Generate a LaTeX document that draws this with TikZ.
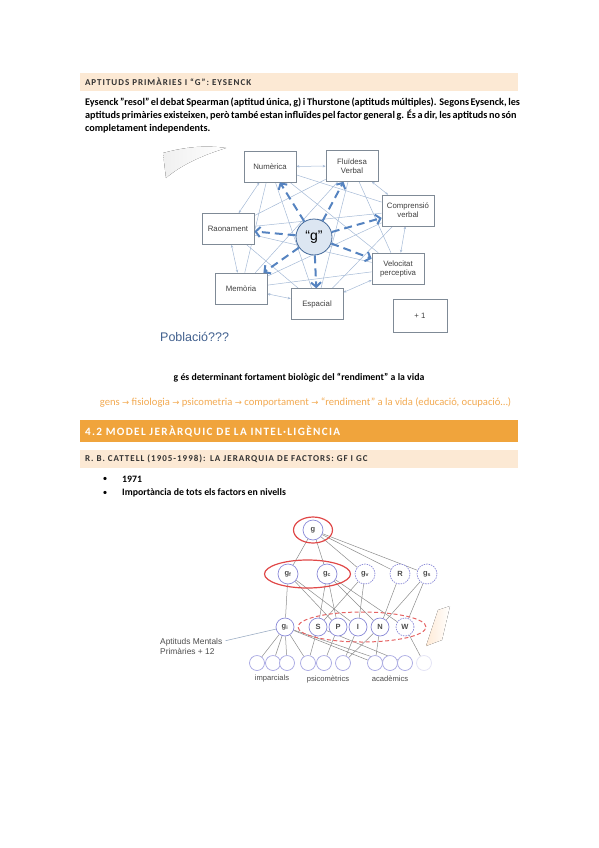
\documentclass[tikz,border=0pt]{standalone}
\usepackage{fontspec}
\setmainfont{Carlito}
\newfontfamily\figfont{Liberation Sans}
\newfontfamily\symfont{DejaVu Sans}
\usetikzlibrary{arrows.meta,shapes.geometric,backgrounds}
\definecolor{peach}{HTML}{FCE9D4}
\definecolor{bandorange}{HTML}{F0A43C}
\definecolor{txtorange}{HTML}{F2A950}
\definecolor{boxline}{HTML}{7F8A96}
\definecolor{linkblue}{HTML}{A5BAD6}
\definecolor{arrowblue}{HTML}{5583C0}
\definecolor{gfill}{HTML}{DCE6F2}
\definecolor{popblue}{HTML}{41608E}
\definecolor{circblue}{HTML}{8A8AD8}
\definecolor{ringred}{HTML}{E04848}
\definecolor{edgegray}{HTML}{8C8C8C}
\newcommand{\Arr}{{\symfont\fontsize{8.5}{9}\selectfont →}}
\tikzset{
	band/.style={minimum width=438pt,minimum height=18pt,text width=428pt,inner sep=0pt,align=left},
	bandtxt/.style={font=\bfseries\addfontfeatures{LetterSpace=11}\fontsize{9}{9}\selectfont,text=black!80},
	bodytxt/.style={inner sep=0pt,align=left,font=\bfseries\fontsize{10.2}{13}\selectfont},
	fbox/.style={draw=boxline,line width=0.6pt,fill=white,minimum width=52pt,minimum height=31pt,
		align=center,inner sep=1pt,font=\figfont\fontsize{7.8}{9}\selectfont,text=black!75},
	link/.style={draw=linkblue,line width=0.5pt},
	ring/.style={link,{Stealth[length=3pt,width=2.5pt]}-{Stealth[length=3pt,width=2.5pt]}},
	garrow/.style={draw=arrowblue,line width=2pt,dash pattern=on 8pt off 5pt,
		-{Straight Barb[length=4.5pt,width=10pt]}},
	hcirc/.style={circle,draw=circblue,line width=0.7pt,fill=white,minimum size=20pt,inner sep=0pt,
		font=\figfont\bfseries\fontsize{7.5}{7.5}\selectfont,text=black!70},
	dcirc/.style={hcirc,dash pattern=on 1.5pt off 1pt},
	leaf/.style={hcirc,minimum size=15pt,draw=circblue!75},
	edge/.style={draw=edgegray,line width=0.5pt},
	figlabel/.style={font=\figfont\fontsize{7.6}{9}\selectfont,text=black!70,inner sep=0pt}
}
\begin{document}
\begin{tikzpicture}[x=1pt,y=-1pt]
\useasboundingbox (0,0) rectangle (599,848);
%first band
\node[band,fill=peach,bandtxt] (bandeysenck) at (299,82) {APTITUDS PRIMÀRIES I “G”: EYSENCK};
%intro text
\node[bodytxt,anchor=north west] (intro) at (85,98) {%
	\makebox[431pt][s]{Eysenck "resol" el debat Spearman (aptitud única, g) i Thurstone (aptituds múltiples). Segons Eysenck, les}\\
	\makebox[431pt][s]{aptituds primàries existeixen, però també estan influïdes pel factor general g. És a dir, les aptituds no són}\\
	completament independents.};
%swoosh
\fill[left color=gray!12,right color=white] (163,153) .. controls (185,147) and (205,145) .. (226,148)
	.. controls (200,156) and (180,166) .. (166,178) -- cycle;
%boxes
\node[fbox] (num) at (270,166.5) {Numèrica};
\node[fbox] (flu) at (352,166) {Fluïdesa\\Verbal};
\node[fbox] (com) at (408,210.5) {Comprensió\\verbal};
\node[fbox] (rao) at (228,229) {Raonament};
\node[fbox] (vel) at (398,268.5) {Velocitat\\perceptiva};
\node[fbox] (mem) at (241,288.5) {Memòria};
\node[fbox] (esp) at (317,304) {Espacial};
\node[fbox,minimum width=54pt,minimum height=33pt] (plus) at (420,315.5) {+ 1};
\node[circle,draw=arrowblue!80!black,fill=gfill,line width=0.8pt,minimum size=36pt,inner sep=0pt,
	font=\figfont\fontsize{14}{14}\selectfont] (g) at (314,237) {“g”};
\begin{pgfonlayer}{background}
	%outer ring
	\draw[ring] (num) -- (flu);
	\draw[ring] (flu) -- (com);
	\draw[ring] (com) -- (vel);
	\draw[ring] (vel) -- (esp);
	\draw[ring] (esp) -- (mem);
	\draw[ring] (mem) -- (rao);
	\draw[ring] (rao) -- (num);
	%cross links
	\foreach \a/\b in {num/com,num/vel,num/esp,num/mem,flu/rao,flu/mem,flu/esp,flu/vel,
		com/rao,com/mem,com/esp,vel/rao,vel/mem,esp/rao}
		\draw[link] (\a) -- (\b);
\end{pgfonlayer}
%arrows from g
\foreach \t in {num,flu,com,vel,esp,mem,rao}
	\draw[garrow] (g) -- (\t);
\node[anchor=west,inner sep=0pt,font=\figfont\fontsize{12.5}{13}\selectfont,text=popblue] (pob) at (160,337) {Població???};
%statements
\node[inner sep=0pt,font=\bfseries\fontsize{9.8}{10}\selectfont] (gbio) at (299,378)
	{g és determinant fortament biològic del “rendiment” a la vida};
\node[inner sep=0pt,font=\fontsize{10.6}{11}\selectfont,text=txtorange] (chain) at (305.5,403)
	{gens \Arr{} fisiologia \Arr{} psicometria \Arr{} comportament \Arr{} “rendiment” a la vida (educació, ocupació…)};
%section bands
\node[band,fill=bandorange,minimum height=22pt,text=white,font=\bfseries\addfontfeatures{LetterSpace=12}\fontsize{11.2}{12}\selectfont]
	(bandmodel) at (299,431) {4.2 MODEL JERÀRQUIC DE LA INTEL·LIGÈNCIA};
\node[band,fill=peach,bandtxt] (bandcattell) at (299,459) {R. B. CATTELL (1905-1998): LA JERARQUIA DE FACTORS: GF I GC};
%bullets
\foreach \y/\txt [count=\i] in {479/1971,493/Importància de tots els factors en nivells}{
	\node[inner sep=0pt,font=\fontsize{9}{9}\selectfont] (bul\i) at (105,\y) {\textbullet};
	\node[anchor=west,inner sep=0pt,font=\bfseries\fontsize{9.8}{10}\selectfont] (item\i) at (122,\y) {\txt};
}
%hierarchy: levels
\node[hcirc] (g0) at (313,530) {g};
\node[hcirc] (gf) at (288,574) {g\textsubscript{f}};
\node[hcirc] (gc) at (327,574) {g\textsubscript{c}};
\node[dcirc] (gv) at (365,574) {g\textsubscript{v}};
\node[dcirc] (gr) at (400,574) {R};
\node[dcirc] (gs) at (427,574) {g\textsubscript{s}};
\node[hcirc,minimum size=18pt] (gi) at (285,627) {g\textsubscript{i}};
\foreach \n/\x in {S/318,P/338,I/358,N/380}
	\node[hcirc,minimum size=18pt] (\n) at (\x,627) {\n};
\node[dcirc,minimum size=18pt] (W) at (405,627) {W};
\foreach \x [count=\i] in {257,273,287,308,324,343,375,390,405}
	\node[leaf] (b\i) at (\x,663) {};
\node[leaf,draw=circblue!25] (b10) at (424,663) {};
%red rings
\node[ellipse,draw=ringred,line width=1.2pt,minimum width=39pt,minimum height=26pt] (ringg) at (g0) {};
\node[ellipse,draw=ringred,line width=1.2pt,minimum width=86pt,minimum height=28pt] (ringfc) at (307.5,574) {};
\node[ellipse,draw=ringred!85,line width=1pt,dash pattern=on 4pt off 2.5pt,minimum width=128pt,minimum height=30pt]
	(ringspin) at (362,627) {};
%orange swoosh
\fill[left color=orange!16,right color=white] (426,646) -- (438,610) -- (450,606) -- (442,640) -- cycle;
\begin{pgfonlayer}{background}
	\foreach \a/\b in {g0/gf,g0/gc,g0/gv,g0/gr,g0/gs,gf/gi,gf/P,gf/I,gc/S,gc/P,gc/N,gc/W,
		gv/S,gv/I,gr/N,gs/N,gs/W,gi/b1,gi/b2,gi/b3,gi/b4,gi/b7,gi/b8,S/b4,S/b9,P/b5,
		I/b6,N/b6,N/b7,W/b10}
		\draw[edge] (\a) -- (\b);
\end{pgfonlayer}
%labels
\node[figlabel,anchor=west,align=left,font=\figfont\fontsize{8.4}{10}\selectfont] (apt) at (160,646)
	{Aptituds Mentals\\Primàries + 12};
\draw[draw=linkblue!80!gray,line width=0.6pt] (apt.north east) ++(3,3) coordinate (aptend) -- (gi);
\node[figlabel] (imp) at (272,679) {imparcials};
\node[figlabel] (psi) at (328,679) {psicomètrics};
\node[figlabel] (aca) at (390,679) {acadèmics};
\end{tikzpicture}
\end{document}
